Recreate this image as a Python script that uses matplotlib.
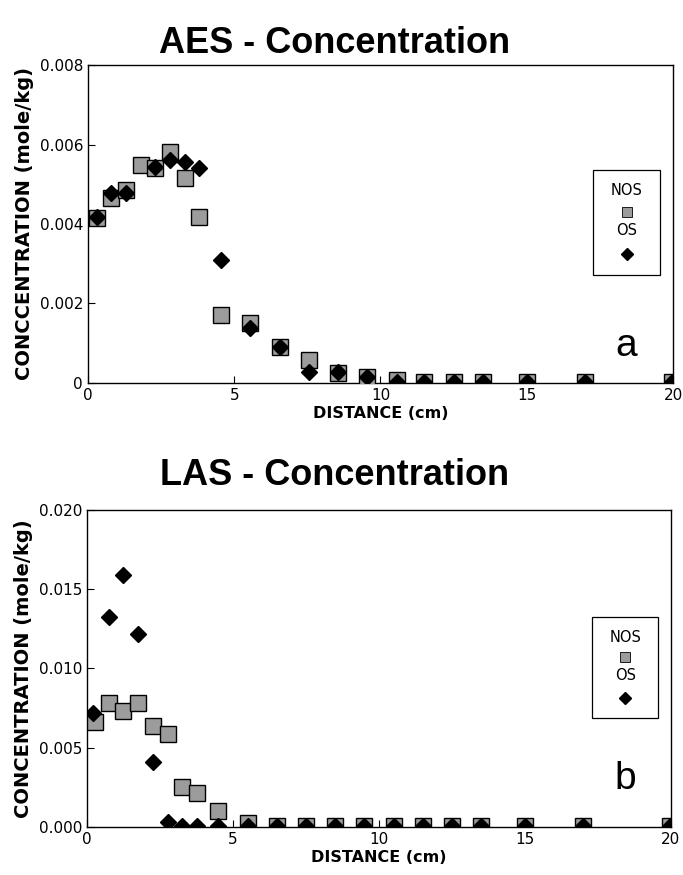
import matplotlib
matplotlib.use("Agg")
import matplotlib.pyplot as plt
from matplotlib.patches import Rectangle

# ---- data ----
aes_nos_x = [0.3, 0.8, 1.3, 1.8, 2.3, 2.8, 3.3, 3.8, 4.55, 5.55, 6.55, 7.55, 8.55,
             9.55, 10.55, 11.5, 12.5, 13.5, 15, 17, 19.95]
aes_nos_y = [0.00416, 0.00465, 0.00486, 0.00548, 0.0054, 0.00582, 0.00515, 0.00418,
             0.00171, 0.0015, 0.00091, 0.00058, 0.00025, 0.00015, 0.00008,
             0.00003, 0.00003, 0.00003, 0.00003, 0.00003, 0.00003]
aes_os_x = [0.3, 0.8, 1.3, 2.3, 2.8, 3.3, 3.8, 4.55, 5.55, 6.55, 7.55, 8.55, 9.55,
            10.55, 11.5, 12.5, 13.5, 15, 17, 19.95]
aes_os_y = [0.00418, 0.00477, 0.00477, 0.00543, 0.00561, 0.00557, 0.0054, 0.00309,
            0.00138, 0.0009, 0.00028, 0.00027, 0.00016, 0.00003, 0.00003,
            0.00003, 0.00003, 0.00003, 0.00003, 0.00003]

las_nos_x = [0.27, 0.76, 1.24, 1.76, 2.25, 2.76, 3.26, 3.78, 4.5, 5.52, 6.5, 7.5, 8.5,
             9.5, 10.5, 11.5, 12.5, 13.5, 15, 17, 19.95]
las_nos_y = [0.00664, 0.0078, 0.00732, 0.0078, 0.00637, 0.00587, 0.0025, 0.00213,
             0.00103, 0.00027, 0.00004, 0.00004, 0.00004, 0.00004, 0.00004,
             0.00004, 0.00004, 0.00004, 0.00004, 0.00004, 0.00004]
las_os_x = [0.22, 0.76, 1.24, 1.76, 2.25, 2.76, 3.27, 3.78, 4.5, 5.52, 6.5, 7.5, 8.5,
            9.5, 10.5, 11.5, 12.5, 13.5, 15, 17, 19.95]
las_os_y = [0.00717, 0.01327, 0.0159, 0.01218, 0.00412, 0.00034, 0.00006, 0.00005,
            0.00005, 0.00003, 0.00003, 0.00003, 0.00003, 0.00003, 0.00003,
            0.00003, 0.00003, 0.00003, 0.00003, 0.00003, 0.00003]

x_ticks = [0, 5, 10, 15, 20]
aes_y_ticks = [0, 0.002, 0.004, 0.006, 0.008]
aes_y_labels = ["0", "0.002", "0.004", "0.006", "0.008"]
las_y_ticks = [0, 0.005, 0.010, 0.015, 0.020]
las_y_labels = ["0.000", "0.005", "0.010", "0.015", "0.020"]

SQ_FACE = "#9c9c9c"

fig = plt.figure(figsize=(6.83, 8.75), dpi=100)
ax1 = fig.add_axes([0.1288, 0.5623, 0.8566, 0.3634])
ax2 = fig.add_axes([0.1274, 0.0549, 0.8550, 0.3623])


def draw_panel(ax, nx, ny, ox, oy, yticks, ylabels, ylabel, letter, letter_y, box):
    ax.plot(nx, ny, linestyle="none", marker="s", ms=11, mfc=SQ_FACE,
            mec="black", mew=1.0, zorder=3)
    ax.plot(ox, oy, linestyle="none", marker="D", ms=8, mfc="black",
            mec="black", zorder=4)
    ax.set_xlim(0, 20)
    ax.set_ylim(yticks[0], yticks[-1])
    ax.set_xticks(x_ticks)
    ax.set_xticklabels([str(t) for t in x_ticks])
    ax.set_yticks(yticks)
    ax.set_yticklabels(ylabels)
    ax.tick_params(direction="in", length=5, width=0.8, labelsize=11,
                   top=False, right=False)
    for s in ax.spines.values():
        s.set_linewidth(1.0)
    ax.set_xlabel("DISTANCE (cm)", fontsize=11.5, fontweight="bold", labelpad=2)
    ax.set_ylabel(ylabel, fontsize=14, fontweight="bold", labelpad=4)

    # legend box: label above marker
    x0, y0, x1, y1 = box
    ax.add_patch(Rectangle((x0, y0), x1 - x0, y1 - y0, transform=ax.transAxes,
                           fill=False, edgecolor="black", lw=0.9, zorder=5))
    xc = (x0 + x1) / 2
    h = y1 - y0
    ax.text(xc, y0 + 0.80 * h, "NOS", transform=ax.transAxes, ha="center",
            va="center", fontsize=10.5)
    ax.plot([xc], [y0 + 0.60 * h], transform=ax.transAxes, marker="s", ms=6.5,
            mfc=SQ_FACE, mec="black", mew=0.6, linestyle="none", clip_on=False)
    ax.text(xc, y0 + 0.42 * h, "OS", transform=ax.transAxes, ha="center",
            va="center", fontsize=10.5)
    ax.plot([xc], [y0 + 0.20 * h], transform=ax.transAxes, marker="D", ms=6,
            mfc="black", mec="black", linestyle="none", clip_on=False)

    ax.text(xc, letter_y, letter, transform=ax.transAxes, ha="center",
            va="center", fontsize=28, family="Liberation Sans")


draw_panel(ax1, aes_nos_x, aes_nos_y, aes_os_x, aes_os_y, aes_y_ticks, aes_y_labels,
           "CONCCENTRATION (mole/kg)", "a", 0.115, (0.863, 0.34, 0.978, 0.67))
draw_panel(ax2, las_nos_x, las_nos_y, las_os_x, las_os_y, las_y_ticks, las_y_labels,
           "CONCENTRATION (mole/kg)", "b", 0.15, (0.865, 0.344, 0.978, 0.662))

fig.text(0.49, 0.950, "AES - Concentration", ha="center", va="center",
         fontsize=26, fontweight="bold", family="Liberation Sans")
fig.text(0.49, 0.457, "LAS - Concentration", ha="center", va="center",
         fontsize=26, fontweight="bold", family="Liberation Sans")

fig.savefig("out.png", dpi=100)
